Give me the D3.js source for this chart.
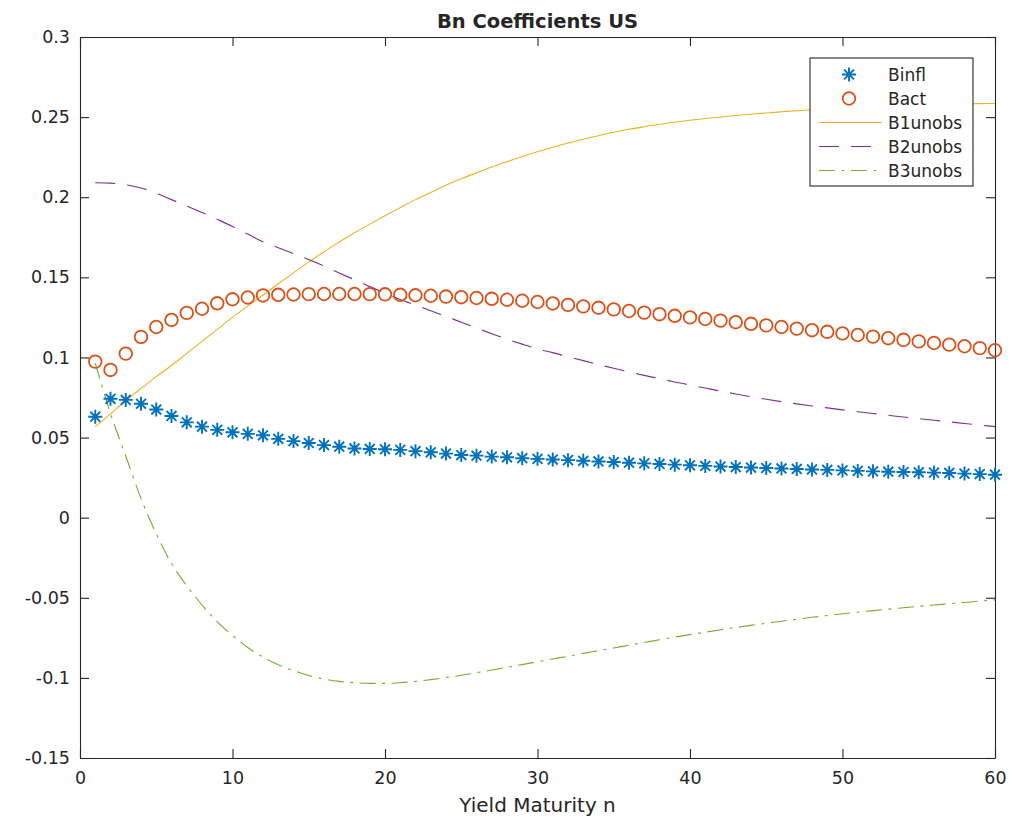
<!DOCTYPE html>
<html>
<head>
<meta charset="utf-8">
<script src="https://cdn.jsdelivr.net/npm/d3@7"></script>
<style>
  html, body { margin: 0; padding: 0; background: #fff; }
  svg { display: block; }
  text { font-family: "DejaVu Sans", sans-serif; fill: #262626; }
</style>
</head>
<body>
<svg id="chart" width="1014" height="819"></svg>
<script>
// ---- data ----
const maturities = d3.range(1, 61);
const binfl = [
  0.0630, 0.0742, 0.0735, 0.0711, 0.0675, 0.0635, 0.0595, 0.0568, 0.0548, 0.0533,
  0.0523, 0.0514, 0.0492, 0.0478, 0.0466, 0.0453, 0.0443, 0.0432, 0.0429, 0.0427,
  0.0423, 0.0415, 0.0408, 0.0400, 0.0391, 0.0387, 0.0381, 0.0377, 0.0371, 0.0367,
  0.0363, 0.0359, 0.0355, 0.0351, 0.0347, 0.0343, 0.0339, 0.0335, 0.0331, 0.0327,
  0.0323, 0.0319, 0.0316, 0.0313, 0.0310, 0.0307, 0.0304, 0.0301, 0.0298, 0.0295,
  0.0292, 0.0289, 0.0287, 0.0285, 0.0283, 0.0281, 0.0279, 0.0275, 0.0272, 0.0268
];
const bact = [
  0.0974, 0.0922, 0.1024, 0.1128, 0.1190, 0.1234, 0.1278, 0.1304, 0.1338, 0.1363,
  0.1374, 0.1387, 0.1391, 0.1393, 0.1395, 0.1396, 0.1396, 0.1396, 0.1395, 0.1394,
  0.1391, 0.1388, 0.1385, 0.1380, 0.1376, 0.1371, 0.1366, 0.1360, 0.1354, 0.1346,
  0.1337, 0.1328, 0.1319, 0.1310, 0.1300, 0.1290, 0.1280, 0.1270, 0.1260, 0.1250,
  0.1240, 0.1230, 0.1220, 0.1210, 0.1200, 0.1190, 0.1180, 0.1170, 0.1160, 0.1150,
  0.1140, 0.1130, 0.1120, 0.1110, 0.1100, 0.1090, 0.1080, 0.1070, 0.1058, 0.1045
];
const b1unobs = [
  0.0568, 0.0648, 0.0730, 0.0806, 0.0880, 0.0950, 0.1025, 0.1100, 0.1175, 0.1250,
  0.1320, 0.1390, 0.1460, 0.1528, 0.1595, 0.1660, 0.1720, 0.1778, 0.1832, 0.1884,
  0.1935, 0.1985, 0.2030, 0.2075, 0.2115, 0.2152, 0.2188, 0.2222, 0.2254, 0.2284,
  0.2312, 0.2338, 0.2362, 0.2384, 0.2405, 0.2424, 0.2440, 0.2455, 0.2468, 0.2480,
  0.2491, 0.2501, 0.2510, 0.2518, 0.2526, 0.2533, 0.2540, 0.2546, 0.2552, 0.2557,
  0.2562, 0.2566, 0.2570, 0.2573, 0.2576, 0.2579, 0.2581, 0.2583, 0.2584, 0.2585
];
const b2unobs = [
  0.2090, 0.2088, 0.2078, 0.2058, 0.2025, 0.1985, 0.1945, 0.1905, 0.1862, 0.1818,
  0.1770, 0.1722, 0.1685, 0.1648, 0.1612, 0.1570, 0.1527, 0.1485, 0.1442, 0.1402,
  0.1362, 0.1327, 0.1292, 0.1256, 0.1220, 0.1184, 0.1148, 0.1114, 0.1083, 0.1054,
  0.1030, 0.1005, 0.0980, 0.0956, 0.0932, 0.0910, 0.0888, 0.0867, 0.0847, 0.0828,
  0.0809, 0.0790, 0.0772, 0.0755, 0.0739, 0.0724, 0.0710, 0.0697, 0.0685, 0.0673,
  0.0661, 0.0650, 0.0639, 0.0628, 0.0618, 0.0608, 0.0598, 0.0588, 0.0578, 0.0568
];
const b3unobs = [
  0.0965, 0.0650, 0.0385, 0.0120, -0.0100, -0.0285, -0.0425, -0.0545, -0.0650, -0.0735,
  -0.0810, -0.0870, -0.0918, -0.0955, -0.0985, -0.1007, -0.1022, -0.1030, -0.1034, -0.1034,
  -0.1030, -0.1022, -0.1011, -0.0998, -0.0984, -0.0968, -0.0951, -0.0934, -0.0917, -0.0899,
  -0.0882, -0.0865, -0.0847, -0.0830, -0.0813, -0.0796, -0.0779, -0.0762, -0.0745, -0.0730,
  -0.0715, -0.0700, -0.0686, -0.0672, -0.0659, -0.0646, -0.0634, -0.0622, -0.0611, -0.0600,
  -0.0590, -0.0580, -0.0571, -0.0562, -0.0553, -0.0545, -0.0537, -0.0529, -0.0521, -0.0513
];
const xTicks = [0, 10, 20, 30, 40, 50, 60];
const yTicks = [-0.15, -0.1, -0.05, 0, 0.05, 0.1, 0.15, 0.2, 0.25, 0.3];
const yTickLabels = ["-0.15", "-0.1", "-0.05", "0", "0.05", "0.1", "0.15", "0.2", "0.25", "0.3"];
const seriesNames = ["Binfl", "Bact", "B1unobs", "B2unobs", "B3unobs"];
const titleText = "Bn Coefficients US";
const xLabelText = "Yield Maturity n";

// ---- layout ----
const L = 80, R = 995, T = 37, B = 758;
const svg = d3.select("#chart");
const x = d3.scaleLinear().domain([0, 60]).range([L, R]);
const y = d3.scaleLinear().domain([-0.15, 0.3]).range([B, T]);

const axisColor = "#262626";
const colors = {
  Binfl: "#0072BD", Bact: "#D95319", B1unobs: "#EDB120", B2unobs: "#7E2F8E", B3unobs: "#77AC30"
};
const dashes = { B1unobs: null, B2unobs: "20,12", B3unobs: "16,6.5,3,6.5" };

svg.append("rect").attr("x", 0).attr("y", 0).attr("width", 1014).attr("height", 819).attr("fill", "#fff");

// axes (ticks inward, box)
const tickLen = 9;
const gAx = svg.append("g");
const bottomAxis = d3.axisBottom(x).tickValues(xTicks).tickSizeInner(-tickLen).tickSizeOuter(0).tickPadding(14).tickFormat(d3.format("d"));
const gb = gAx.append("g").attr("transform", `translate(0,${B})`).call(bottomAxis);
const topAxis = d3.axisTop(x).tickValues(xTicks).tickSizeInner(-tickLen).tickSizeOuter(0).tickFormat("");
const gt = gAx.append("g").attr("transform", `translate(0,${T})`).call(topAxis);
const leftAxis = d3.axisLeft(y).tickValues(yTicks).tickSizeInner(-tickLen).tickSizeOuter(0).tickPadding(10)
  .tickFormat((d, i) => yTickLabels[i]);
const gl = gAx.append("g").attr("transform", `translate(${L},0)`).call(leftAxis);
const rightAxis = d3.axisRight(y).tickValues(yTicks).tickSizeInner(-tickLen).tickSizeOuter(0).tickFormat("");
const gr = gAx.append("g").attr("transform", `translate(${R},0)`).call(rightAxis);
[gb, gt, gl, gr].forEach(g => {
  g.select(".domain").attr("stroke", axisColor).attr("stroke-width", 1.1);
  g.selectAll(".tick line").attr("stroke", axisColor).attr("stroke-width", 1.1);
  g.selectAll(".tick text").attr("fill", axisColor).style("font-family", '"DejaVu Sans", sans-serif').style("font-size", "17.5px");
});

// lines
const lineSeries = [
  { name: "B1unobs", values: b1unobs },
  { name: "B2unobs", values: b2unobs },
  { name: "B3unobs", values: b3unobs }
];
const lineGen = d3.line().x((d, i) => x(maturities[i])).y(d => y(d)).curve(d3.curveMonotoneX);
lineSeries.forEach(s => {
  svg.append("path").datum(s.values)
    .attr("d", lineGen)
    .attr("fill", "none")
    .attr("stroke", colors[s.name])
    .attr("stroke-width", 1.1)
    .attr("stroke-dasharray", dashes[s.name]);
});

// markers
function asteriskPath(r) {
  const a = r * Math.SQRT1_2;
  return `M${-r},0L${r},0M0,${-r}L0,${r}M${-a},${-a}L${a},${a}M${-a},${a}L${a},${-a}`;
}
svg.append("g").selectAll("path").data(binfl).join("path")
  .attr("transform", (d, i) => `translate(${x(maturities[i])},${y(d)})`)
  .attr("d", asteriskPath(7))
  .attr("stroke", colors.Binfl).attr("stroke-width", 1.9).attr("fill", "none");
svg.append("g").selectAll("circle").data(bact).join("circle")
  .attr("cx", (d, i) => x(maturities[i])).attr("cy", d => y(d)).attr("r", 6.3)
  .attr("stroke", colors.Bact).attr("stroke-width", 1.8).attr("fill", "none");

// title and label
svg.append("text").attr("x", (L + R) / 2).attr("y", 28).attr("text-anchor", "middle")
  .style("font-size", "19.5px").style("font-weight", "bold").attr("fill", "#000").text(titleText);
svg.append("text").attr("x", (L + R) / 2).attr("y", 812).attr("text-anchor", "middle")
  .style("font-size", "20px").text(xLabelText);

// legend
const lg = svg.append("g");
lg.append("rect").attr("x", 810).attr("y", 58).attr("width", 163).attr("height", 128)
  .attr("fill", "#fff").attr("stroke", axisColor).attr("stroke-width", 1.1);
const rowY = d3.scalePoint().domain(seriesNames).range([74.5, 170.5]);
seriesNames.forEach(name => {
  const yy = rowY(name);
  if (name === "Binfl") {
    lg.append("path").attr("transform", `translate(849,${yy})`).attr("d", asteriskPath(7))
      .attr("stroke", colors.Binfl).attr("stroke-width", 1.9).attr("fill", "none");
  } else if (name === "Bact") {
    lg.append("circle").attr("cx", 849).attr("cy", yy).attr("r", 6.3)
      .attr("stroke", colors.Bact).attr("stroke-width", 1.8).attr("fill", "none");
  } else {
    lg.append("line").attr("x1", 819).attr("x2", 882).attr("y1", yy).attr("y2", yy)
      .attr("stroke", colors[name]).attr("stroke-width", 1.1).attr("stroke-dasharray", dashes[name]);
  }
  lg.append("text").attr("x", 888).attr("y", yy).attr("dy", "0.36em")
    .style("font-size", "17px").text(name);
});
</script>
</body>
</html>
